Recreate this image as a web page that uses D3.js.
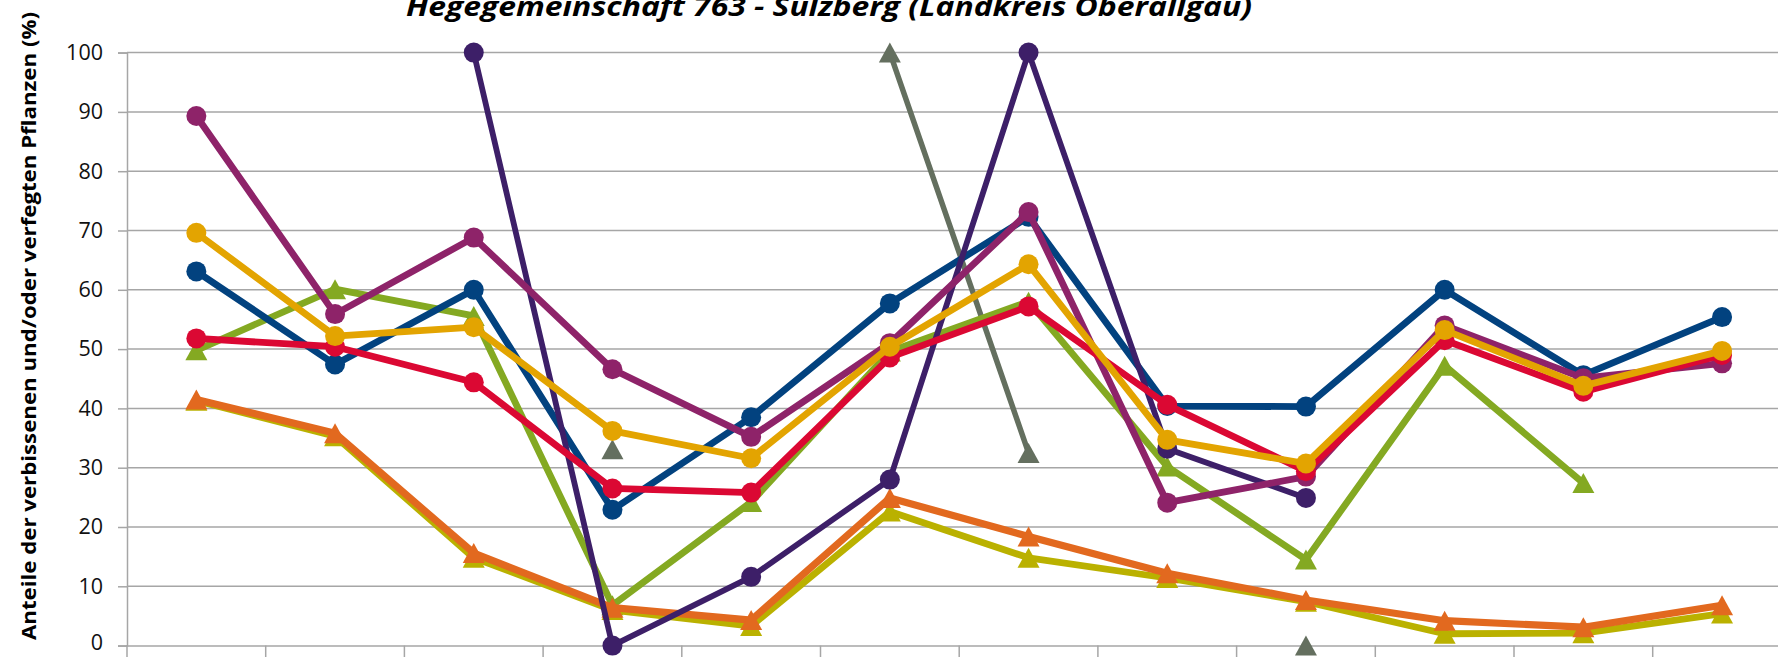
<!DOCTYPE html>
<html>
<head>
<meta charset="utf-8">
<script src="https://cdn.jsdelivr.net/npm/d3@7"></script>
<style>
  html, body { margin: 0; padding: 0; background: #fff; overflow: hidden; }
  svg { display: block; }
</style>
</head>
<body>
<svg id="chart" width="1778" height="657"></svg>
<script>
// ---- data ----
const titleText = "Hegegemeinschaft 763 - Sulzberg (Landkreis Oberallgäu)";
const yAxisTitle = "Anteile der verbissenen und/oder verfegten Pflanzen (%)";
const categories = ["1991", "1994", "1997", "2000", "2003", "2006", "2009", "2012", "2015", "2018", "2021", "2024"];
const yTicks = [0, 10, 20, 30, 40, 50, 60, 70, 80, 90, 100];

const seriesNames = ["Grau", "Grün", "Oliv", "Orange", "Blau", "Dunkelviolett", "Magenta", "Rot", "Gelb"];
const grayVals    = [null, null, null, 33.1, null, 100, 32.5, null, 0, null, null, null];
const greenVals   = [49.8, 60.1, 55.6, 6.8, 24.2, 49.6, 58.0, 30.2, 14.5, 47.2, 27.4, null];
const oliveVals   = [41.3, 35.3, 14.8, 6.0, 3.3, 22.6, 14.8, 11.4, 7.4, 2.0, 2.1, 5.4];
const orangeVals  = [41.5, 35.8, 15.6, 6.4, 4.3, 24.9, 18.4, 12.2, 7.7, 4.2, 3.1, 6.8];
const blueVals    = [63.1, 47.4, 60.0, 22.9, 38.5, 57.7, 72.3, 40.4, 40.3, 60.0, 45.6, 55.4];
const purpleVals  = [null, null, 100, 0, 11.6, 28.0, 100, 33.2, 24.9, null, null, null];
const magentaVals = [89.3, 55.9, 68.8, 46.6, 35.2, 51.0, 73.1, 24.1, 28.5, 54.0, 45.1, 47.6];
const redVals     = [51.8, 50.4, 44.4, 26.5, 25.8, 48.6, 57.2, 40.6, 29.4, 51.5, 42.8, 49.0];
const yellowVals  = [69.6, 52.2, 53.7, 36.2, 31.6, 50.4, 64.3, 34.7, 30.7, 53.2, 43.8, 49.7];

const seriesValues = [grayVals, greenVals, oliveVals, orangeVals, blueVals, purpleVals, magentaVals, redVals, yellowVals];
const seriesColors = ["#646f5f", "#84a922", "#bab100", "#e2691f", "#02427f", "#3d1f68", "#8e2369", "#db0833", "#e3a401"];
const seriesMarkers = ["triangle", "triangle", "triangle", "triangle", "circle", "circle", "circle", "circle", "circle"];
const seriesWidths = [5.5, 6.8, 6.8, 7.2, 6.8, 5.8, 6.8, 6.8, 6.8];

// ---- layout ----
const svg = d3.select("#chart");
const plotLeft = 127, plotTop = 52.6, plotBottom = 645.6;
const bandW = 138.7;
const plotRight = plotLeft + bandW * categories.length;

const x = d3.scaleBand().domain(categories).range([plotLeft, plotRight]).paddingInner(0).paddingOuter(0);
const y = d3.scaleLinear().domain([0, 100]).range([plotBottom, plotTop]);
const cx = c => x(c) + x.bandwidth() / 2;

// gridlines
svg.append("g")
  .selectAll("line")
  .data(yTicks.filter(t => t > 0))
  .join("line")
  .attr("x1", plotLeft).attr("x2", plotRight)
  .attr("y1", d => y(d)).attr("y2", d => y(d))
  .attr("stroke", "#a6a6a6").attr("stroke-width", 1.5);

// y axis
const yAxis = d3.axisLeft(y).tickValues(yTicks).tickSize(9).tickPadding(15);
const gy = svg.append("g").attr("transform", `translate(${plotLeft},0)`).call(yAxis);
gy.select(".domain").attr("stroke", "#a6a6a6").attr("stroke-width", 1.5);
gy.selectAll(".tick line").attr("stroke", "#a6a6a6").attr("stroke-width", 1.5);
gy.selectAll(".tick text")
  .attr("font-family", "'Open Sans', sans-serif")
  .attr("font-size", 21.5)
  .attr("fill", "#111")
  .attr("dy", d => d === 0 ? "0.2em" : "0.32em");

// x axis (category labels lie below the visible frame)
const xAxis = d3.axisBottom(x).tickSize(0).tickFormat(() => "");
const gx = svg.append("g").attr("transform", `translate(0,${plotBottom})`).call(xAxis);
gx.select(".domain").attr("stroke", "#a6a6a6").attr("stroke-width", 1.5);
svg.append("g")
  .selectAll("line")
  .data(categories)
  .join("line")
  .attr("x1", d => x(d)).attr("x2", d => x(d))
  .attr("y1", plotBottom).attr("y2", plotBottom + 12)
  .attr("stroke", "#a6a6a6").attr("stroke-width", 1.5);

// title
svg.append("text")
  .attr("x", 829).attr("y", 16)
  .attr("text-anchor", "middle")
  .attr("font-family", "'Open Sans', sans-serif")
  .attr("font-weight", "bold")
  .attr("font-style", "italic")
  .attr("font-size", 27)
  .attr("textLength", 846)
  .attr("lengthAdjust", "spacingAndGlyphs")
  .attr("fill", "#000")
  .text(titleText);

// y-axis title
svg.append("text")
  .attr("transform", `translate(36,326) rotate(-90)`)
  .attr("text-anchor", "middle")
  .attr("font-family", "'Open Sans', sans-serif")
  .attr("font-weight", "bold")
  .attr("font-size", 19)
  .attr("textLength", 628)
  .attr("lengthAdjust", "spacingAndGlyphs")
  .attr("fill", "#000")
  .text(yAxisTitle);

// series
const line = d3.line()
  .defined(d => d.v !== null)
  .x(d => cx(d.c))
  .y(d => y(d.v));

const triPath = "M0,-10 L11,10 L-11,10 Z";

seriesValues.forEach((vals, i) => {
  const pts = categories.map((c, j) => ({ c, v: vals[j] }));
  const g = svg.append("g").attr("class", "series").attr("data-name", seriesNames[i]);
  g.append("path")
    .datum(pts)
    .attr("d", line)
    .attr("fill", "none")
    .attr("stroke", seriesColors[i])
    .attr("stroke-width", seriesWidths[i])
    .attr("stroke-linejoin", "round")
    .attr("stroke-linecap", "round");
  const defined = pts.filter(d => d.v !== null);
  if (seriesMarkers[i] === "circle") {
    g.selectAll("circle").data(defined).join("circle")
      .attr("cx", d => cx(d.c)).attr("cy", d => y(d.v))
      .attr("r", 10)
      .attr("fill", seriesColors[i]);
  } else {
    g.selectAll("path.m").data(defined).join("path")
      .attr("class", "m")
      .attr("transform", d => `translate(${cx(d.c)},${y(d.v)})`)
      .attr("d", triPath)
      .attr("fill", seriesColors[i]);
  }
});
</script>
</body>
</html>
